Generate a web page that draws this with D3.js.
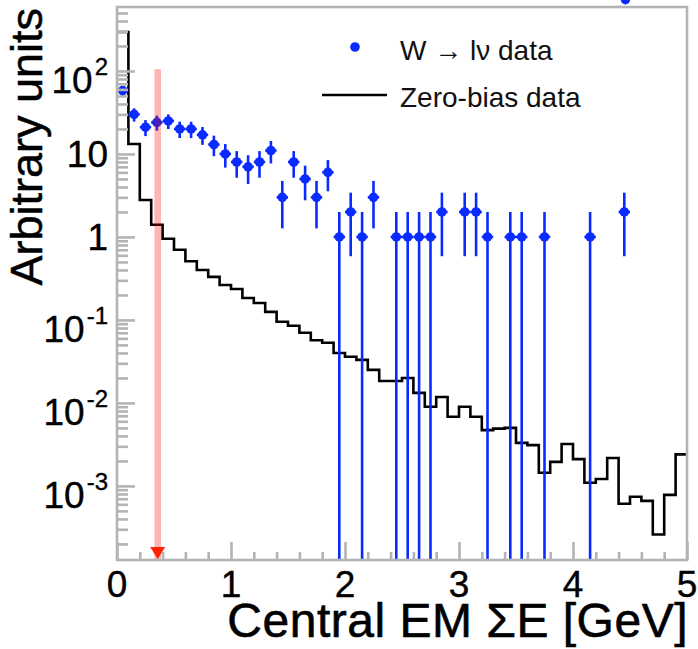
<!DOCTYPE html>
<html>
<head>
<meta charset="utf-8">
<script src="https://cdn.jsdelivr.net/npm/d3@7"></script>
<style>
  html, body { margin: 0; padding: 0; background: #fff; }
  svg { display: block; }
  text { font-family: "Liberation Sans", Arial, Helvetica, sans-serif; }
</style>
</head>
<body>
<svg id="chart" width="698" height="649"></svg>
<script>
// Zero-bias spectrum: 50 bins of 0.1 GeV from 0 to 5 GeV (arbitrary units)
const binWidth = 0.1;
const zeroBias = [
  295, 13.2, 2.79, 1.40, 0.95, 0.70, 0.51, 0.40, 0.33, 0.264,
  0.236, 0.184, 0.160, 0.125, 0.095, 0.085, 0.070, 0.057, 0.053, 0.040,
  0.036, 0.033, 0.025, 0.0184, 0.0184, 0.020, 0.0132, 0.0090, 0.0118, 0.0068,
  0.0090, 0.0068, 0.0047, 0.0049, 0.0050, 0.0033, 0.0031, 0.00144, 0.00195, 0.0032,
  0.0021, 0.00109, 0.00121, 0.00217, 0.00061, 0.00074, 0.00066, 0.00026, 0.00078, 0.0024
];

// W -> l nu candidates: bin centres (GeV) and counts of the non-empty bins
const wEnergy = [
  0.05, 0.15, 0.25, 0.35, 0.45, 0.55, 0.65, 0.75, 0.85, 0.95,
  1.05, 1.15, 1.25, 1.35, 1.45, 1.55, 1.65, 1.75, 1.85, 1.95,
  2.05, 2.15, 2.25, 2.45, 2.55, 2.65, 2.75, 2.85, 3.05, 3.15,
  3.25, 3.45, 3.55, 3.75, 4.15, 4.45
];
const wCounts = [
  58, 30, 21, 24, 25, 20, 20, 17, 13, 10,
  8, 7, 8, 11, 3, 8, 5, 3, 6, 1,
  2, 1, 3, 1, 1, 1, 1, 2, 2, 2,
  1, 1, 1, 1, 1, 2
];
// a marker drawn above the frame edge
const strayEnergy = [4.46];
const strayValue = [720];

// selection cut
const cutValue = 0.357;
const cutTop = 105;

// axes
const xTickValues = [0, 1, 2, 3, 4, 5];
const xTickLabels = ["0", "1", "2", "3", "4", "5"];
const yTickValues = [1e2, 1e1, 1, 1e-1, 1e-2, 1e-3];
const yTickBase = ["10", "10", "1", "10", "10", "10"];
const yTickExp = ["2", "", "", "-1", "-2", "-3"];
const xTitle = "Central EM \u03A3E [GeV]";
const yTitle = "Arbitrary units";
const legendLabels = ["W \u2192 l\u03BD data", "Zero-bias data"];

const frame = { left: 117, right: 687, top: 7, bottom: 560 };
const svg = d3.select("#chart");

const x = d3.scaleLinear().domain([0, 5]).range([frame.left, frame.right]);
const y = d3.scaleLog().domain([1.28e-4, 590]).range([frame.bottom, frame.top]);

const blue = "#0a2bff";
const gray = "#b4b4b4";

svg.append("defs").append("clipPath").attr("id", "plotArea")
  .append("rect")
  .attr("x", frame.left).attr("y", frame.top)
  .attr("width", frame.right - frame.left).attr("height", frame.bottom - frame.top);

const plot = svg.append("g").attr("clip-path", "url(#plotArea)");

// zero-bias histogram outline
const histPts = zeroBias.map((v, i) => [i * binWidth, v]);
histPts.push([zeroBias.length * binWidth, zeroBias[zeroBias.length - 1]]);
plot.append("path")
  .datum(histPts)
  .attr("fill", "none")
  .attr("stroke", "#000")
  .attr("stroke-width", 2.6)
  .attr("d", d3.line().x(d => x(d[0])).y(d => y(d[1])).curve(d3.curveStepAfter));

// W data: error bars and markers
const wData = wEnergy.map((e, i) => ({ e, n: wCounts[i] }));
const wg = plot.append("g");
wg.selectAll("line.ey").data(wData).join("line")
  .attr("class", "ey")
  .attr("x1", d => x(d.e)).attr("x2", d => x(d.e))
  .attr("y1", d => y(d.n + Math.sqrt(d.n)))
  .attr("y2", d => {
    const lo = d.n - Math.sqrt(d.n);
    return lo > 0 ? y(lo) : frame.bottom + 5;
  })
  .attr("stroke", blue).attr("stroke-width", 2.6);
wg.selectAll("line.ex").data(wData).join("line")
  .attr("class", "ex")
  .attr("x1", d => x(d.e - binWidth / 2)).attr("x2", d => x(d.e + binWidth / 2))
  .attr("y1", d => y(d.n)).attr("y2", d => y(d.n))
  .attr("stroke", blue).attr("stroke-width", 2.6);
wg.selectAll("circle").data(wData).join("circle")
  .attr("cx", d => x(d.e)).attr("cy", d => y(d.n))
  .attr("r", 4.8).attr("fill", blue);

svg.selectAll("circle.stray").data(strayEnergy).join("circle")
  .attr("class", "stray")
  .attr("cx", d => x(d)).attr("cy", (d, i) => y(strayValue[i]))
  .attr("r", 4.6).attr("fill", blue);

// cut marker: translucent band plus arrow head on the axis
plot.append("rect")
  .attr("x", x(cutValue) - 3.3).attr("width", 6.6)
  .attr("y", y(cutTop)).attr("height", frame.bottom - y(cutTop))
  .attr("fill", "#ff0000").attr("fill-opacity", 0.29);

// frame
svg.append("rect")
  .attr("x", frame.left).attr("y", frame.top)
  .attr("width", frame.right - frame.left).attr("height", frame.bottom - frame.top)
  .attr("fill", "none").attr("stroke", gray).attr("stroke-width", 2.6);

// y axis ticks (inside the frame)
const yMinor = [];
for (let p = -4; p <= 2; p++) {
  for (let m = 2; m <= 9; m++) {
    const v = m * Math.pow(10, p);
    if (v > y.domain()[0] && v < y.domain()[1]) yMinor.push(v);
  }
}
const yAxisMinor = svg.append("g").attr("transform", `translate(${frame.left},0)`)
  .call(d3.axisRight(y).tickValues(yMinor).tickSize(11).tickFormat(""));
const yAxisMajor = svg.append("g").attr("transform", `translate(${frame.left},0)`)
  .call(d3.axisRight(y).tickValues(yTickValues).tickSize(18).tickFormat(""));

// x axis ticks (inside the frame)
const xMinor = d3.range(0, 5.0001, 0.2).filter(v => Math.abs(v - Math.round(v)) > 1e-6);
const xAxisMinor = svg.append("g").attr("transform", `translate(0,${frame.bottom})`)
  .call(d3.axisTop(x).tickValues(xMinor).tickSize(8).tickFormat(""));
const xAxisMajor = svg.append("g").attr("transform", `translate(0,${frame.bottom})`)
  .call(d3.axisTop(x).tickValues(xTickValues).tickSize(18).tickFormat(""));

[yAxisMinor, yAxisMajor, xAxisMinor, xAxisMajor].forEach(g => {
  g.select(".domain").remove();
  g.selectAll(".tick line").attr("stroke", gray).attr("stroke-width", 2.6);
});

// arrow head of the cut, drawn over the axis
const cx = x(cutValue);
svg.append("path")
  .attr("d", `M${cx - 7.5},${frame.bottom - 13} L${cx + 7.5},${frame.bottom - 13} L${cx},${frame.bottom - 1} Z`)
  .attr("fill", "#ff2200");

// y tick labels
yTickValues.forEach((v, i) => {
  const hasExp = yTickExp[i] !== "";
  const t = svg.append("text")
    .attr("x", 108)
    .attr("y", y(v) + (hasExp ? 22 : 13.5))
    .attr("text-anchor", "end")
    .attr("font-size", 37)
    .attr("fill", "#000").attr("stroke", "#000").attr("stroke-width", 0.4);
  t.append("tspan").text(yTickBase[i]);
  if (hasExp) {
    t.append("tspan").attr("dx", 2).attr("dy", -18).attr("font-size", 24).text(yTickExp[i]);
  }
});

// x tick labels
svg.selectAll("text.xl").data(xTickValues).join("text")
  .attr("class", "xl")
  .attr("x", d => x(d)).attr("y", 597)
  .attr("text-anchor", "middle").attr("font-size", 37)
  .attr("fill", "#000").attr("stroke", "#000").attr("stroke-width", 0.4)
  .text((d, i) => xTickLabels[i]);

// axis titles
svg.append("text")
  .attr("x", 688).attr("y", 637)
  .attr("text-anchor", "end").attr("font-size", 48).attr("letter-spacing", 0.5)
  .attr("stroke", "#000").attr("stroke-width", 0.6).attr("fill", "#000")
  .text(xTitle);
svg.append("text")
  .attr("transform", "translate(42,8) rotate(-90)")
  .attr("text-anchor", "end").attr("font-size", 45)
  .attr("fill", "#000").attr("stroke", "#000").attr("stroke-width", 0.5)
  .text(yTitle);

// legend
const leg = svg.append("g");
leg.append("circle").attr("cx", 355).attr("cy", 47).attr("r", 4.8).attr("fill", blue);
leg.append("line").attr("x1", 322).attr("x2", 387).attr("y1", 95).attr("y2", 95)
  .attr("stroke", "#000").attr("stroke-width", 2.6);
leg.append("text").attr("x", 400).attr("y", 60).attr("font-size", 28).attr("fill", "#111").text(legendLabels[0]);
leg.append("text").attr("x", 400).attr("y", 107).attr("font-size", 28).attr("fill", "#111").text(legendLabels[1]);
</script>
</body>
</html>
